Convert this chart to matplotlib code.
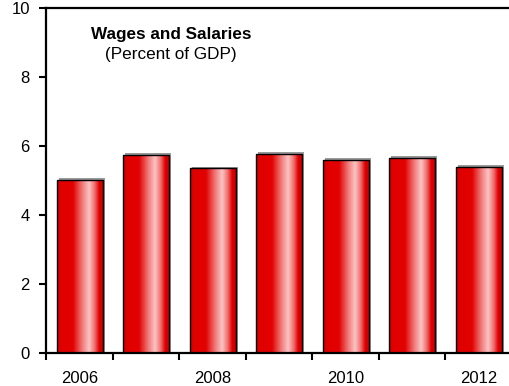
import numpy as np
import matplotlib
matplotlib.use("Agg")
import matplotlib.pyplot as plt
from matplotlib.colors import LinearSegmentedColormap
from matplotlib.patches import Rectangle

plt.rcParams['font.family'] = ['Liberation Sans', 'DejaVu Sans']

years = [2006, 2007, 2008, 2009, 2010, 2011, 2012]
values = [5.02, 5.75, 5.36, 5.79, 5.60, 5.67, 5.40]
tick_labels = ["2006", "", "2008", "", "2010", "", "2012"]
title = "Wages and Salaries"
subtitle = "(Percent of GDP)"

fig = plt.figure(figsize=(5.1, 3.86), dpi=100)
ax = fig.add_axes([46.5 / 510, 1 - 353.3 / 386, 465.5 / 510, 345 / 386])

n = len(years)
x = np.arange(n)
width = 0.69

# cylinder-like shading across each bar
shade = LinearSegmentedColormap.from_list(
    "cyl",
    [(0.0, "#c80000"), (0.08, "#e00000"), (0.35, "#e20202"),
     (0.55, "#f07a7a"), (0.70, "#fbc4c4"), (0.82, "#f07070"),
     (0.92, "#e00000"), (1.0, "#c80000")])
grad = np.linspace(0, 1, 256).reshape(1, -1)

for xi, v in zip(x, values):
    left = xi - width / 2
    # soft grey shadow behind the bar
    ax.add_patch(Rectangle((left + 0.03, 0), width, v + 0.05,
                           facecolor="#9a9a9a", edgecolor="none", zorder=1))
    img = ax.imshow(grad, cmap=shade, aspect="auto",
                    extent=(left, left + width, 0, v), zorder=2,
                    interpolation="bilinear")
    bar = Rectangle((left, 0), width, v, facecolor="none",
                    edgecolor="black", linewidth=1.0, zorder=3)
    ax.add_patch(bar)
    img.set_clip_path(bar)

ax.set_xlim(-0.5, n - 0.5)
ax.set_ylim(0, 10)
ax.set_aspect("auto")

ax.set_yticks([0, 2, 4, 6, 8, 10])
ax.set_yticklabels(["0", "2", "4", "6", "8", "10"])
ax.set_xticks(np.arange(n + 1) - 0.5, minor=False)
ax.set_xticklabels([""] * (n + 1))
ax.set_xticks(x, minor=True)
ax.set_xticklabels(tick_labels, minor=True)
ax.tick_params(axis="x", which="minor", length=0, pad=13, labelsize=12)
ax.tick_params(axis="x", which="major", direction="out", length=5, width=1.5)
ax.tick_params(axis="y", direction="out", length=5, width=1.5, labelsize=12, pad=7)

for side in ("left", "bottom", "top"):
    ax.spines[side].set_linewidth(1.6)
ax.spines["right"].set_visible(False)

ax.text(0.267, 0.923, title, transform=ax.transAxes, ha="center", va="center",
        fontsize=12.3, fontweight="bold")
ax.text(0.267, 0.865, subtitle, transform=ax.transAxes, ha="center", va="center",
        fontsize=12.3)

fig.savefig("out.png", dpi=100)
